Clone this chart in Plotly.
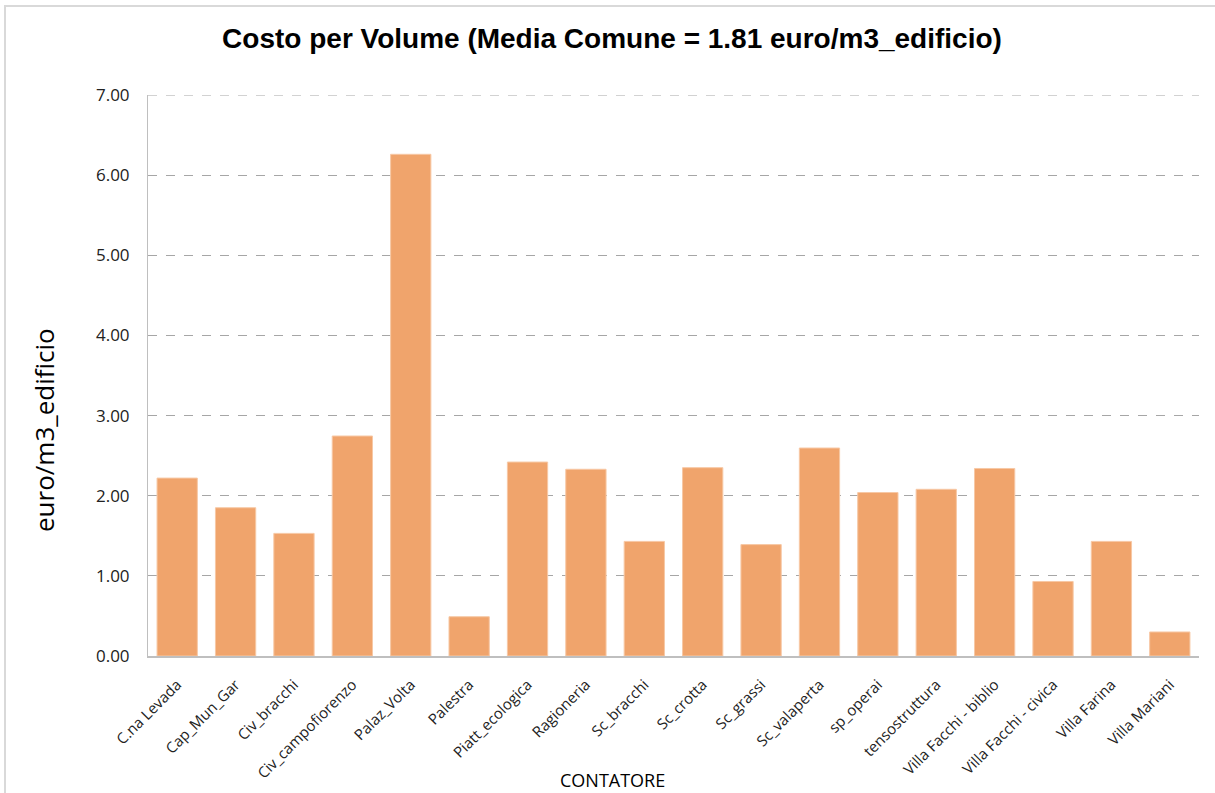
import plotly.graph_objects as go

categories = ["C.na Levada", "Cap_Mun_Gar", "Civ_bracchi", "Civ_campofiorenzo", "Palaz_Volta",
              "Palestra", "Piatt_ecologica", "Ragioneria", "Sc_bracchi", "Sc_crotta", "Sc_grassi",
              "Sc_valaperta", "sp_operai", "tensostruttura", "Villa Facchi - biblio",
              "Villa Facchi - civica", "Villa Farina", "Villa Mariani"]
values = [2.22, 1.85, 1.53, 2.745, 6.26, 0.49, 2.42, 2.33, 1.43, 2.35, 1.39, 2.595,
          2.04, 2.08, 2.34, 0.93, 1.43, 0.30]
y_ticks = [0, 1, 2, 3, 4, 5, 6, 7]

W, H = 1215, 793
L, R, T, B = 148, 16, 95, 137
PW, PH = W - L - R, H - T - B

fig = go.Figure(go.Bar(
    x=categories, y=values,
    marker=dict(color="#F0A46C", line=dict(color="#F7C8A5", width=1)),
    width=0.69,
))

fig.update_layout(
    width=W, height=H,
    margin=dict(l=L, r=R, t=T, b=B),
    paper_bgcolor="white", plot_bgcolor="white",
    showlegend=False,
    font=dict(family="Open Sans, Liberation Sans, sans-serif", color="#222"),
    title=dict(text="<b>Costo per Volume (Media Comune = 1.81 euro/m3_edificio)</b>",
               x=612 / W, xanchor="center", xref="container",
               y=1 - 38 / H, yanchor="middle", yref="container",
               font=dict(family="Liberation Sans, Arial, sans-serif", size=28, color="black")),
    xaxis=dict(tickangle=-45, showline=True, linecolor="#BFBFBF", linewidth=2,
               showgrid=False, ticks="", tickfont=dict(size=15, color="#222"),
               ticklabelstandoff=12,
               range=[-0.5, len(categories) - 0.5]),
    yaxis=dict(range=[0, 7], tickvals=y_ticks, tickformat=".2f", showgrid=True,
               gridcolor="#A6A6A6", griddash="dash", gridwidth=1,
               showline=True, linecolor="#BFBFBF", linewidth=1, zeroline=False,
               tickfont=dict(size=17, color="#222"), ticks="", ticklabelstandoff=14),
    annotations=[
        dict(text="euro/m3_edificio", textangle=-90, x=(44 - L) / PW, xref="paper",
             y=(H - B - 430) / PH, yref="paper", xanchor="center", yanchor="middle",
             showarrow=False, font=dict(size=26, color="black")),
        dict(text="CONTATORE", x=(612 - L) / PW, xref="paper",
             y=-(780 - (H - B)) / PH, yref="paper", xanchor="center", yanchor="middle",
             showarrow=False, font=dict(size=18, color="black")),
    ],
    shapes=[
        dict(type="rect", xref="paper", yref="paper",
             x0=(5 - L) / PW, x1=(W + 20 - L) / PW,
             y0=-(H + 20 - (H - B)) / PH, y1=(H - B - 6) / PH,
             line=dict(color="#D9D9D9", width=2), fillcolor="rgba(0,0,0,0)", layer="below"),
        dict(type="line", xref="paper", yref="y", x0=0, x1=1, y0=y_ticks[-1], y1=y_ticks[-1],
             line=dict(color="#A6A6A6", width=1, dash="dash"), layer="below"),
    ],
)

fig.write_html("out.html", config={"displayModeBar": False},
               post_script="document.body.style.margin='0';document.body.style.overflow='hidden';")
